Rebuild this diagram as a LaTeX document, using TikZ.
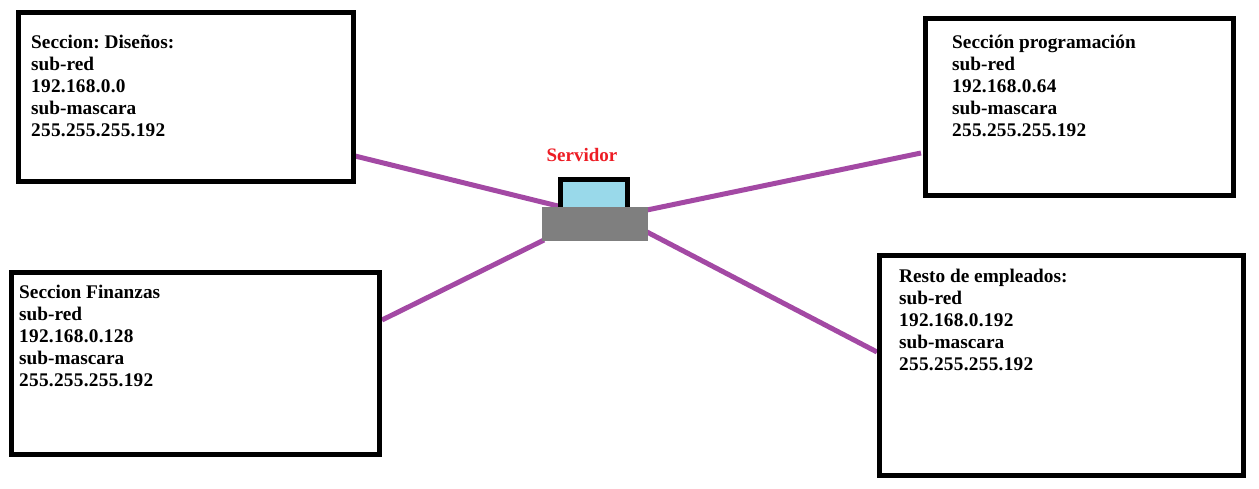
\documentclass[tikz,border=0pt]{standalone}
\usepackage{fontspec}
\setmainfont{Liberation Serif}
\definecolor{linkc}{HTML}{A349A4}
\definecolor{scr}{HTML}{99D9EA}
\definecolor{base}{HTML}{7F7F7F}
\definecolor{redt}{HTML}{ED1C24}
\newcommand{\ipnum}[1]{{\addfontfeatures{LetterSpace=1.4}#1}}
\begin{document}
\begin{tikzpicture}[x=1pt,y=-1pt,
 box/.style={draw=black,line width=5pt,fill=white,inner sep=0pt,anchor=north west},
 txt/.style={font=\fontsize{19.3pt}{22pt}\selectfont\bfseries\frenchspacing,align=left,anchor=north west,inner sep=0pt},
 link/.style={draw=linkc,line width=5pt}]
\useasboundingbox (0,0) rectangle (1259,488);
\coordinate (p1) at (355,156);\coordinate (s1) at (558,206);
\coordinate (p2) at (921,153);\coordinate (s2) at (647,210);
\coordinate (p3) at (382,320);\coordinate (s3) at (544,240);
\coordinate (p4) at (877,352);\coordinate (s4) at (647,232);
\draw[link] (p1)--(s1);\draw[link] (p2)--(s2);\draw[link] (p3)--(s3);\draw[link] (p4)--(s4);
\node[box,minimum width=335pt,minimum height=169pt] (a) at (16,10) {};
\node[box,minimum width=308pt,minimum height=177pt] (b) at (923,16) {};
\node[box,minimum width=368pt,minimum height=182pt] (c) at (9,270) {};
\node[box,minimum width=364pt,minimum height=220pt] (d) at (877,253) {};
\node[txt] (ta) at (31,35) {Seccion: Diseños:\\sub-red\\\ipnum{192.168.0.0}\\sub-mascara\\\ipnum{255.255.255.192}};
\node[txt] (tb) at (952,35) {Sección programación\\sub-red\\\ipnum{192.168.0.64}\\sub-mascara\\\ipnum{255.255.255.192}};
\node[txt] (tc) at (19,285) {Seccion Finanzas\\sub-red\\\ipnum{192.168.0.128}\\sub-mascara\\\ipnum{255.255.255.192}};
\node[txt] (td) at (899,269) {Resto de empleados:\\sub-red\\\ipnum{192.168.0.192}\\sub-mascara\\\ipnum{255.255.255.192}};
\node[draw=black,line width=5pt,fill=scr,minimum width=67pt,minimum height=30pt,inner sep=0pt,anchor=north west] (scrn) at (558,177) {};
\node[fill=base,minimum width=106pt,minimum height=34pt,inner sep=0pt,anchor=north west] (srv) at (542,207) {};
\node[font=\fontsize{19pt}{20pt}\selectfont\bfseries,text=redt,inner sep=0pt] (lab) at (582,155) {Servidor};
\end{tikzpicture}
\end{document}
